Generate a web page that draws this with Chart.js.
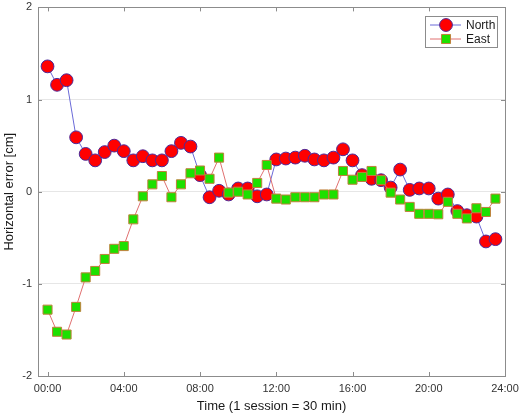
<!DOCTYPE html>
<html><head><meta charset="utf-8">
<script src="https://cdn.jsdelivr.net/npm/chart.js@4"></script>
<style>html,body{margin:0;padding:0;background:#fff}</style>
</head><body>
<canvas id="c" width="520" height="414"></canvas>
<script>
const sessionHours = [0,0.5,1,1.5,2,2.5,3,3.5,4,4.5,5,5.5,6,6.5,7,7.5,8,8.5,9,9.5,10,10.5,11,11.5,
  12,12.5,13,13.5,14,14.5,15,15.5,16,16.5,17,17.5,18,18.5,19,19.5,20,20.5,21,21.5,22,22.5,23,23.5];
const north = [1.36,1.16,1.21,0.59,0.41,0.34,0.43,0.50,0.44,0.34,0.385,0.34,0.34,0.44,0.53,0.49,
  0.18,-0.06,0.01,-0.03,0.035,0.035,-0.05,-0.03,0.35,0.36,0.37,0.39,0.35,0.34,0.37,0.46,
  0.34,0.18,0.14,0.125,0.045,0.24,0.02,0.035,0.035,-0.075,-0.03,-0.21,-0.255,-0.27,-0.54,-0.515];
const east = [-1.28,-1.52,-1.55,-1.25,-0.93,-0.86,-0.73,-0.62,-0.59,-0.30,-0.05,0.08,0.17,-0.06,0.08,0.20,
  0.23,0.14,0.37,-0.01,0.0,-0.03,0.095,0.29,-0.075,-0.085,-0.06,-0.06,-0.06,-0.03,-0.03,0.225,
  0.13,0.16,0.225,0.125,-0.01,-0.085,-0.165,-0.24,-0.24,-0.245,-0.11,-0.24,-0.29,-0.18,-0.22,-0.075];
const tickHours = [0,4,8,12,16,20,24];
const tickLabels = ['00:00','04:00','08:00','12:00','16:00','20:00','24:00'];
const yTickValues = [-2,-1,0,1,2];
const seriesNames = ['North','East'];

const FONT = '"Liberation Sans", Arial, Helvetica, sans-serif';
const NORTH_LINE = '#6a6ad8', NORTH_FILL = '#ff0000', NORTH_EDGE = '#4b2a9a';
const EAST_LINE = '#e07070', EAST_FILL = '#1de000', EAST_EDGE = '#c0803c';

const framePlugin = {
  id: 'frame',
  beforeDatasetsDraw(chart) {
    const {ctx, chartArea: a, scales} = chart;
    ctx.save();
    ctx.strokeStyle = '#8c8c8c';
    ctx.lineWidth = 1;
    ctx.strokeRect(Math.round(a.left) + 0.5, Math.round(a.top) + 0.5,
      Math.round(a.right - a.left), Math.round(a.bottom - a.top));
    ctx.beginPath();
    tickHours.forEach(h => {
      const x = Math.round(scales.x.getPixelForValue(h)) + 0.5;
      ctx.moveTo(x, a.bottom); ctx.lineTo(x, a.bottom - 4);
      ctx.moveTo(x, a.top); ctx.lineTo(x, a.top + 4);
    });
    yTickValues.forEach(v => {
      const y = Math.round(scales.y.getPixelForValue(v)) + 0.5;
      ctx.moveTo(a.left, y); ctx.lineTo(a.left + 4, y);
      ctx.moveTo(a.right, y); ctx.lineTo(a.right - 4, y);
    });
    ctx.stroke();
    ctx.restore();
  },
  afterDraw(chart) {
    const {ctx} = chart;
    ctx.save();
    const bx = 425.5, by = 16.5, bw = 72, bh = 31;
    ctx.fillStyle = '#fff';
    ctx.fillRect(bx, by, bw, bh);
    ctx.strokeStyle = '#8c8c8c';
    ctx.lineWidth = 1;
    ctx.strokeRect(bx, by, bw, bh);
    const rows = [
      {name: seriesNames[0], y: 25, line: NORTH_LINE, fill: NORTH_FILL, edge: NORTH_EDGE, style: 'circle'},
      {name: seriesNames[1], y: 39, line: EAST_LINE, fill: EAST_FILL, edge: EAST_EDGE, style: 'rect'}
    ];
    rows.forEach(r => {
      ctx.strokeStyle = r.line;
      ctx.beginPath(); ctx.moveTo(430, r.y); ctx.lineTo(461, r.y); ctx.stroke();
      ctx.fillStyle = r.fill; ctx.strokeStyle = r.edge;
      Chart.helpers.drawPoint(ctx, {pointStyle: r.style, radius: 6.4, borderWidth: 1, rotation: 0}, 446, r.y);
      ctx.fillStyle = '#1a1a1a';
      ctx.font = '12px ' + FONT;
      ctx.textBaseline = 'middle';
      ctx.textAlign = 'left';
      ctx.fillText(r.name, 466, r.y + 0.5);
    });
    ctx.restore();
  }
};

new Chart(document.getElementById('c'), {
  type: 'line',
  data: {
    datasets: [
      {
        label: seriesNames[0],
        data: sessionHours.map((h, i) => ({x: h, y: north[i]})),
        borderColor: NORTH_LINE, borderWidth: 1,
        pointStyle: 'circle', pointRadius: 6.4, pointBorderWidth: 1,
        pointBackgroundColor: NORTH_FILL, pointBorderColor: NORTH_EDGE,
        tension: 0, order: 1
      },
      {
        label: seriesNames[1],
        data: sessionHours.map((h, i) => ({x: h, y: east[i]})),
        borderColor: EAST_LINE, borderWidth: 1,
        pointStyle: 'rect', pointRadius: 6.4, pointBorderWidth: 1,
        pointBackgroundColor: EAST_FILL, pointBorderColor: EAST_EDGE,
        tension: 0, order: 0
      }
    ]
  },
  options: {
    responsive: false,
    animation: false,
    events: [],
    layout: {padding: {top: 7, right: 15, left: 0, bottom: 0}},
    plugins: {legend: {display: false}, tooltip: {enabled: false}},
    scales: {
      x: {
        type: 'linear', min: -0.5, max: 24,
        afterBuildTicks: s => { s.ticks = tickHours.map(v => ({value: v})); },
        afterFit: s => { s.height = 38; s.paddingLeft = 0; s.paddingRight = 0; },
        grid: {display: false, drawTicks: false},
        border: {display: false},
        ticks: {
          callback: v => tickLabels[tickHours.indexOf(v)] || '',
          font: {family: FONT, size: 11}, color: '#333', padding: 6, maxRotation: 0, autoSkip: false
        },
        title: {display: true, text: 'Time (1 session = 30 min)', font: {family: FONT, size: 13}, color: '#1a1a1a', padding: {top: 1, bottom: 0}}
      },
      y: {
        min: -2, max: 2,
        afterBuildTicks: s => { s.ticks = yTickValues.map(v => ({value: v})); },
        afterFit: s => { s.width = 38; s.paddingTop = 0; s.paddingBottom = 0; },
        grid: {drawTicks: false, color: c => (c.tick && Math.abs(c.tick.value) < 1.5) ? '#e6e6e6' : 'rgba(0,0,0,0)'},
        border: {display: false},
        ticks: {font: {family: FONT, size: 11}, color: '#333', padding: 6},
        title: {display: true, text: 'Horizontal error [cm]', font: {family: FONT, size: 13}, color: '#1a1a1a', padding: {top: 2, bottom: 0}}
      }
    }
  },
  plugins: [framePlugin]
});
</script>
</body></html>
